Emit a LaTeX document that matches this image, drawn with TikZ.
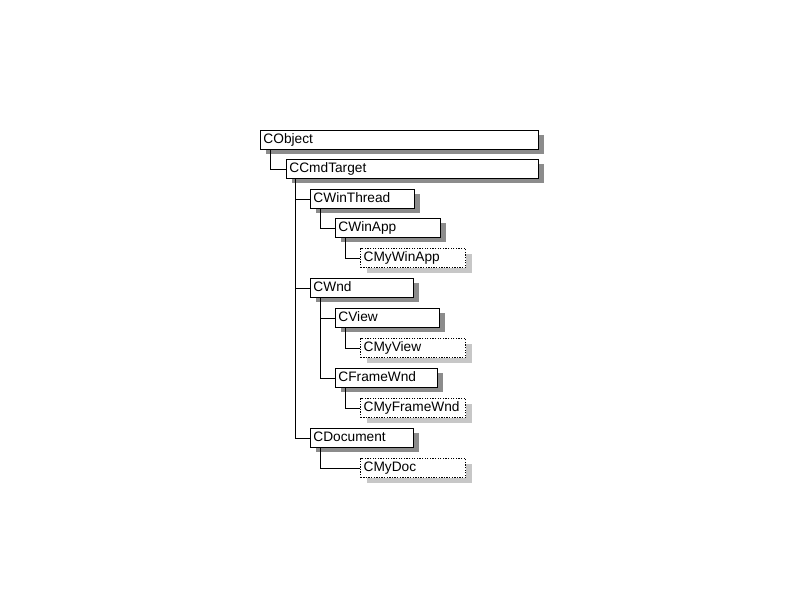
\documentclass[tikz,border=0pt]{standalone}
\usepackage{fontspec}
\setmainfont{Liberation Sans}
\usetikzlibrary{shadows}
\tikzstyle{classbox} = [rectangle, anchor=north west, draw=black, fill=white, line width=0.9pt, minimum height=19pt, inner xsep=3pt, inner ysep=0pt, text height=10pt, text depth=3pt, align=left, font=\fontsize{13.7}{15}\selectfont, drop shadow={shadow xshift=6pt, shadow yshift=-5pt, fill=black!45, opacity=1}]
\tikzstyle{mybox} = [classbox, line width=1.3pt, dash pattern=on 1.3pt off 1.3pt, drop shadow={shadow xshift=6pt, shadow yshift=-5pt, fill=black!22, opacity=1}]
\tikzstyle{link} = [line width=0.9pt]

\begin{document}
\begin{tikzpicture}[x=1pt, y=-1pt]
\useasboundingbox (0,0) rectangle (800,600);

% Nodes
\node (cobject) [classbox, text width=272pt] at (260,130) {CObject};
\node (ccmdtarget) [classbox, text width=246pt] at (286,159) {CCmdTarget};
\node (cwinthread) [classbox, text width=98pt] at (310,189) {CWinThread};
\node (cwinapp) [classbox, text width=99pt] at (335,218) {CWinApp};
\node (cmywinapp) [mybox, text width=99pt] at (360,248) {CMyWinApp};
\node (cwnd) [classbox, text width=97pt] at (310,278) {CWnd};
\node (cview) [classbox, text width=98pt] at (335,308) {CView};
\node (cmyview) [mybox, text width=99pt] at (360,338) {CMyView};
\node (cframewnd) [classbox, text width=96pt] at (335,368) {CFrameWnd};
\node (cmyframewnd) [mybox, text width=99pt] at (360,398) {CMyFrameWnd};
\node (cdocument) [classbox, text width=97pt] at (310,428) {CDocument};
\node (cmydoc) [mybox, text width=99pt] at (360,458) {CMyDoc};

% Lines
\coordinate (trunk) at ([xshift=9.5pt]ccmdtarget.south west);
\draw [link] ([xshift=10.5pt]cobject.south west) |- (ccmdtarget.west);
\draw [link] (trunk) |- (cwinthread.west);
\draw [link] (trunk) |- (cwnd.west);
\draw [link] (trunk) |- (cdocument.west);
\draw [link] ([xshift=10pt]cwinthread.south west) |- (cwinapp.west);
\draw [link] ([xshift=10pt]cwinapp.south west) |- (cmywinapp.west);
\draw [link] ([xshift=10pt]cwnd.south west) |- (cview.west);
\draw [link] ([xshift=10pt]cwnd.south west) |- (cframewnd.west);
\draw [link] ([xshift=10pt]cview.south west) |- (cmyview.west);
\draw [link] ([xshift=10pt]cframewnd.south west) |- (cmyframewnd.west);
\draw [link] ([xshift=10pt]cdocument.south west) |- (cmydoc.west);

\end{tikzpicture}
\end{document}
